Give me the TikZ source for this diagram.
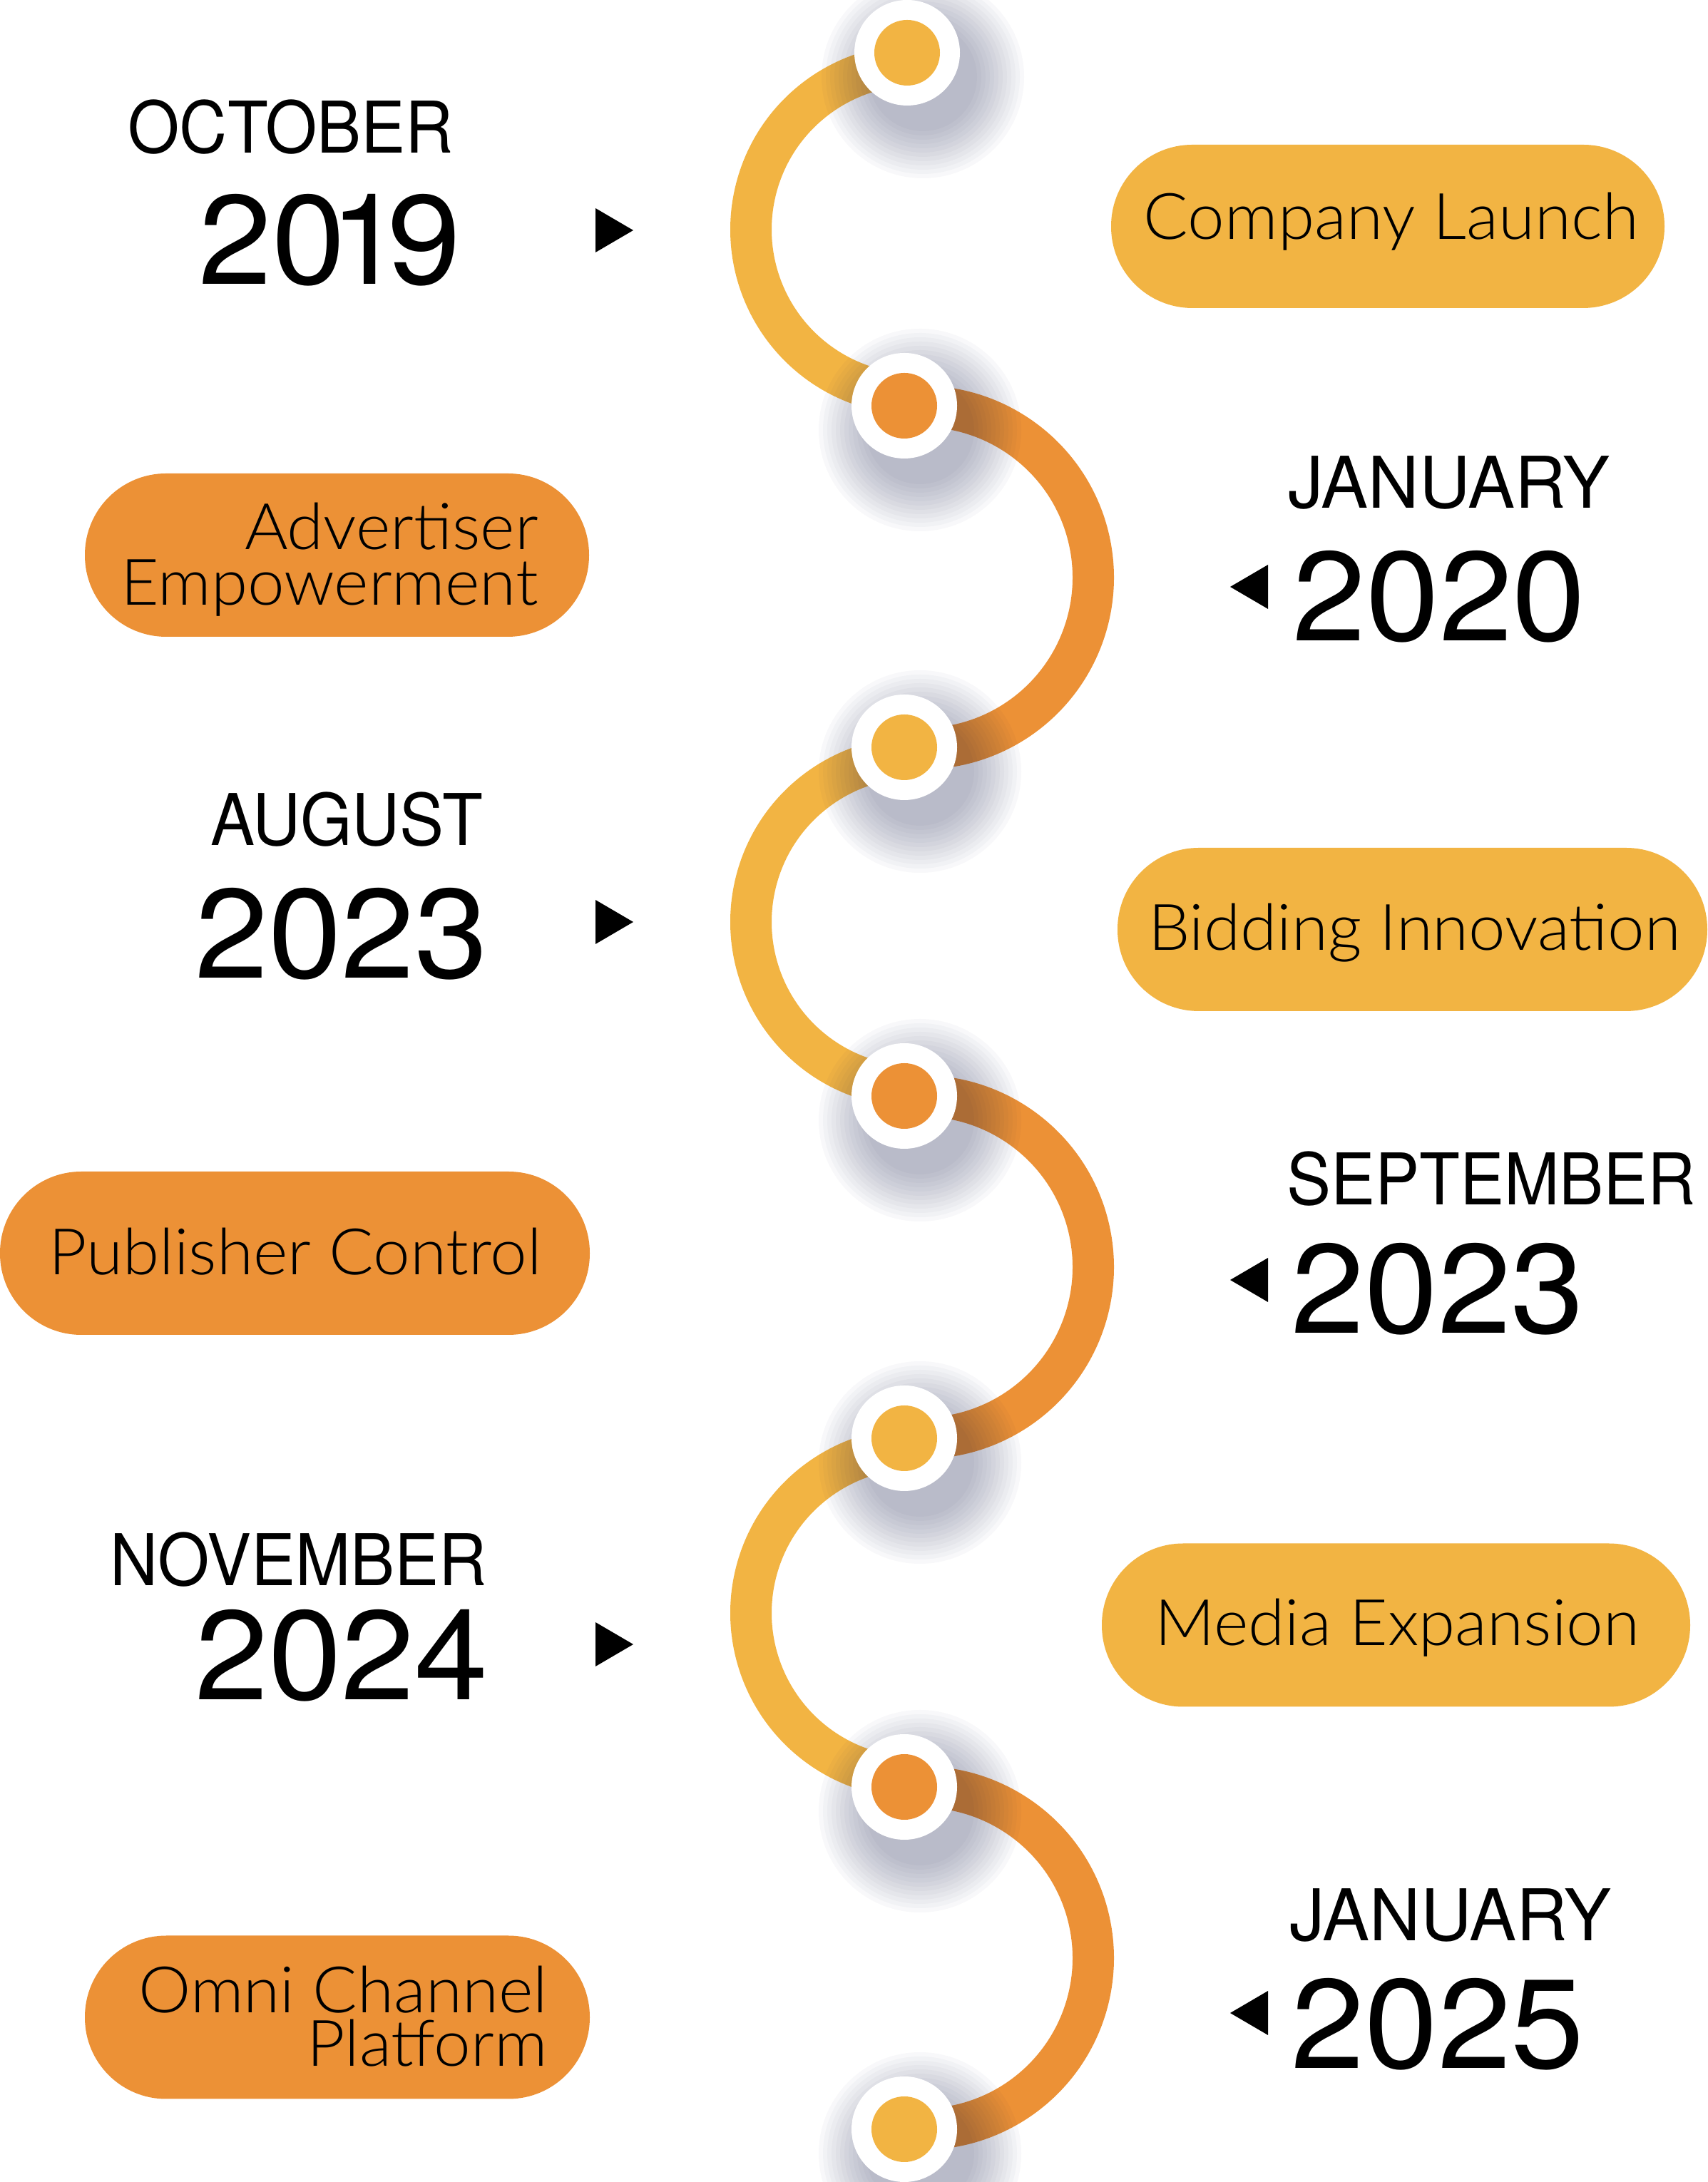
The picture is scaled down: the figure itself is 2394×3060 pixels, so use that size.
\documentclass[tikz,border=0pt]{standalone}
\usepackage{fontspec}
\setmainfont{Lato}
\newfontfamily\pillfont[FakeStretch=1.03]{Lato Light}
\newfontfamily\monthfont[FakeStretch=0.93]{TeX Gyre Heros}
\newfontfamily\monthfontw[FakeStretch=0.99]{TeX Gyre Heros}
\newfontfamily\yearfont[FakeStretch=1.04]{TeX Gyre Heros}
\definecolor{yel}{HTML}{F2B443}
\definecolor{org}{HTML}{EC9136}
\definecolor{shd}{HTML}{1C2150}
\tikzset{
  arcline/.style={line width=58pt},
  dotring/.style={circle, fill=white, minimum size=148pt, inner sep=0pt},
  dotcore/.style={circle, minimum size=92pt, inner sep=0pt},
  pill/.style={rectangle, rounded corners=114pt, minimum height=229pt, inner sep=0pt},
  pilltext/.style={font=\pillfont\fontsize{90}{108}\selectfont, inner sep=0pt},
  month/.style={font=\monthfont\fontsize{100}{120}\selectfont, inner sep=0pt},
  monthw/.style={font=\monthfontw\fontsize{100}{120}\selectfont, inner sep=0pt},
  year/.style={font=\yearfont\fontsize{178}{200}\selectfont, inner sep=0pt},
  shadowlayer/.style={fill=shd, opacity=0.028},
  marker/.style={fill=black},
}
\begin{document}
\begin{tikzpicture}[x=1pt, y=1pt]
\useasboundingbox (0,0) rectangle (2394,3060);
\fill[white] (0,0) rectangle (2394,3060);

% arc centres
\coordinate (c1) at (1284,2738);
\coordinate (c2) at (1293,2250);
\coordinate (c3) at (1284,1767);
\coordinate (c4) at (1293,1283);
\coordinate (c5) at (1284,798);
\coordinate (c6) at (1293,314);

% arcs
\draw[arcline, yel] (c1) ++(80:231pt) arc[start angle=80, end angle=280, radius=231pt];
\draw[arcline, org] (c2) ++(100:240pt) arc[start angle=100, end angle=-100, radius=240pt];
\draw[arcline, yel] (c3) ++(80:231pt) arc[start angle=80, end angle=280, radius=231pt];
\draw[arcline, org] (c4) ++(100:240pt) arc[start angle=100, end angle=-100, radius=240pt];
\draw[arcline, yel] (c5) ++(80:231pt) arc[start angle=80, end angle=280, radius=231pt];
\draw[arcline, org] (c6) ++(100:240pt) arc[start angle=100, end angle=-100, radius=240pt];

% dot positions
\coordinate (p1) at (1272,2986);
\coordinate (p2) at (1268,2491);
\coordinate (p3) at (1268,2012);
\coordinate (p4) at (1268,1523);
\coordinate (p5) at (1268,1043);
\coordinate (p6) at (1268,554);
\coordinate (p7) at (1268,74);

% soft shadows (stacked translucent discs)
\foreach \p in {p1,p2,p3,p4,p5,p6,p7}
  \foreach \r in {76,82,...,142}
    \fill[shadowlayer] ([shift={(22pt,-34pt)}]\p) circle (\r pt);

% dots
\node[dotring] (d1) at (p1) {}; \node[dotcore, fill=yel] (k1) at (p1) {};
\node[dotring] (d2) at (p2) {}; \node[dotcore, fill=org] (k2) at (p2) {};
\node[dotring] (d3) at (p3) {}; \node[dotcore, fill=yel] (k3) at (p3) {};
\node[dotring] (d4) at (p4) {}; \node[dotcore, fill=org] (k4) at (p4) {};
\node[dotring] (d5) at (p5) {}; \node[dotcore, fill=yel] (k5) at (p5) {};
\node[dotring] (d6) at (p6) {}; \node[dotcore, fill=org] (k6) at (p6) {};
\node[dotring] (d7) at (p7) {}; \node[dotcore, fill=yel] (k7) at (p7) {};

% pills
\node[pill, fill=yel, minimum width=776pt] (pl1) at (1946,2742.5) {};
\node[pill, fill=org, minimum width=707pt] (pl2) at (472.5,2281.5) {};
\node[pill, fill=yel, minimum width=827pt] (pl3) at (1980.5,1756.5) {};
\node[pill, fill=org, minimum width=827pt] (pl4) at (413.5,1302.5) {};
\node[pill, fill=yel, minimum width=825pt] (pl5) at (1957.5,781) {};
\node[pill, fill=org, minimum width=708pt] (pl6) at (473,231) {};

% pill texts
\node[pilltext, anchor=base] (t1) at (1951,2724) {Company Launch};
\node[pilltext, anchor=base east] (t2a) at (755,2289) {Advertiser};
\node[pilltext, anchor=base east] (t2b) at (755,2211) {Empowerment};
\node[pilltext, anchor=base] (t3) at (1983.5,1727) {Bidding Innovation};
\node[pilltext, anchor=base] (t4) at (414,1272) {Publisher Control};
\node[pilltext, anchor=base] (t5) at (1959.5,752) {Media Expansion};
\node[pilltext, anchor=base east] (t6a) at (768,237) {Omni Channel};
\node[pilltext, anchor=base east] (t6b) at (768,162) {Platform};

% dates
\node[month, anchor=base east] (m1) at (636,2845) {OCTOBER};
\node[year, anchor=base east] (y1) at (646,2661) {20\kern-22pt1\kern-22pt9};
\node[monthw, anchor=base west] (m2) at (1806,2347) {JANUARY};
\node[year, anchor=base west] (y2) at (1812,2161) {2020};
\node[month, anchor=base east] (m3) at (677,1874) {AUGUST};
\node[year, anchor=base east] (y3) at (685,1688) {2023};
\node[month, anchor=base west] (m4) at (1804,1370) {SEPTEMBER};
\node[year, anchor=base west] (y4) at (1810,1190) {2023};
\node[month, anchor=base east] (m5) at (683,836) {NOVEMBER};
\node[year, anchor=base east] (y5) at (685,676) {2024};
\node[monthw, anchor=base west] (m6) at (1808,338) {JANUARY};
\node[year, anchor=base west] (y6) at (1810,159) {2025};

% markers
\fill[marker] (835,2768) -- (888,2737) -- (835,2706) -- cycle;
\fill[marker] (835,1798) -- (888,1767) -- (835,1736) -- cycle;
\fill[marker] (835,785) -- (888,754) -- (835,723) -- cycle;
\fill[marker] (1778,2268) -- (1725,2237) -- (1778,2206) -- cycle;
\fill[marker] (1778,1296) -- (1725,1265) -- (1778,1234) -- cycle;
\fill[marker] (1778,268) -- (1725,237) -- (1778,206) -- cycle;
\end{tikzpicture}
\end{document}
